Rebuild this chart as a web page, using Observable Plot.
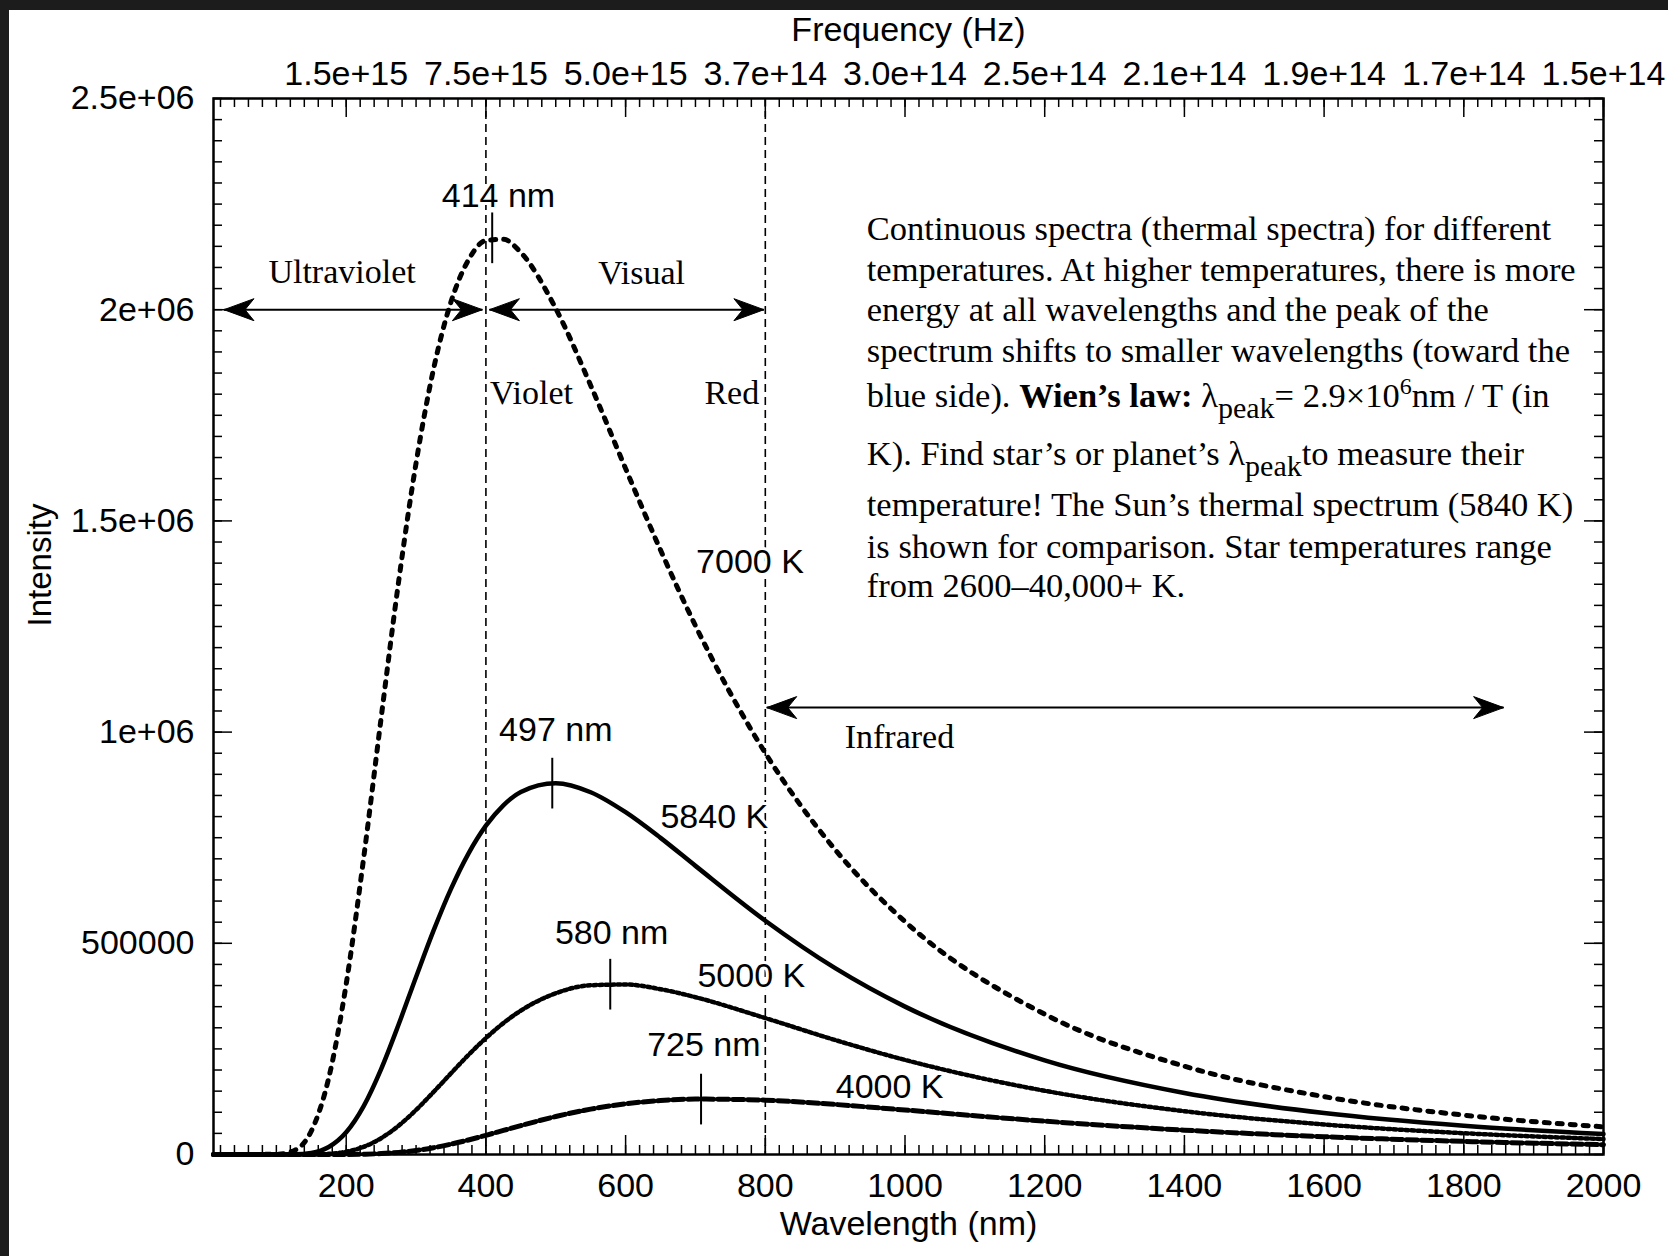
<!DOCTYPE html>
<html><head><meta charset="utf-8">
<script src="https://cdn.jsdelivr.net/npm/d3@7"></script>
<script src="https://cdn.jsdelivr.net/npm/@observablehq/plot@0.6"></script>
<style>
html,body{margin:0;padding:0;background:#fff;}
#wrap{position:relative;width:1668px;height:1256px;overflow:hidden;background:#fff;}
#topbar{position:absolute;left:0;top:0;width:1668px;height:10px;background:#1c1c1c;}
#leftbar{position:absolute;left:0;top:0;width:9px;height:1256px;background:#1c1c1c;}
#chart{position:absolute;left:0;top:0;}
</style></head>
<body><div id="wrap"><div id="chart"></div><div id="topbar"></div><div id="leftbar"></div></div>
<script>
// ---------- data ----------
const wavelength = [10,100,125,150,175,200,225,250,275,300,325,350,375,400,425,450,500,550,600,650,700,800,900,1000,1200,1400,1600,1800,2000];
const intensity7000 = [0,450,9030,55460,181300,403800,702200,1033600,1355900,1637000,1859300,2018600,2117700,2163900,2166600,2135300,2002700,1820700,1623800,1430900,1252000,950500,721600,551400,332100,209000,137000,93200,65400];
const intensity5840 = [0,0,340,3660,17640,52550,114600,202300,307700,420300,529900,628900,712500,778500,826800,858400,879000,857700,810400,749600,683300,553500,441200,350100,222700,145500,98000,68000,48450];
const intensity5000 = [0,0,0,230,1680,6620,18180,38560,68150,105500,147900,192200,235600,275700,311000,340600,381700,400700,402400,391400,372400,323000,271000,223900,150900,102500,71050,50360,36500];
const intensity4000 = [0,0,0,0,0,180,740,2160,4960,9550,16090,24490,34410,45390,56900,68430,89910,107400,120000,127800,131200,128600,118500,105300,78900,57640,42090,31020,23170];
const seriesNames = ["7000 K","5840 K","5000 K","4000 K"];

const peakNm = [409,495,578,708];
const peakIntensity = [2169000,878000,402000,130000];
const peakLabels = ["414 nm","497 nm","580 nm","725 nm"];
const peakLabelNm = [418,500,580,712];
const peakLabelIntensity = [2270000,1004000,523000,258000];

const tempLabelNm = [778,727,780,978];
const tempLabelIntensity = [1402000,799000,423000,159000];

const xTicks = [200,400,600,800,1000,1200,1400,1600,1800,2000];
const xTickLabels = ["200","400","600","800","1000","1200","1400","1600","1800","2000"];
const freqTickLabels = ["1.5e+15","7.5e+15","5.0e+15","3.7e+14","3.0e+14","2.5e+14","2.1e+14","1.9e+14","1.7e+14","1.5e+14"];
const yTicks = [0,500000,1000000,1500000,2000000,2500000];
const yTickLabels = ["0","500000","1e+06","1.5e+06","2e+06","2.5e+06"];

const regionLabels = ["Ultraviolet","Visual","Red","Infrared"];
const regionLabelNm = [194,623,752,992];
const regionLabelIntensity = [2090000,2086000,1802000,987000];
const violetLabel = ["Violet"];
const violetNm = [406];
const violetIntensity = [1802000];

const spectralBoundaries = [400,800];
const arrowStart = [25,405,802];
const arrowEnd = [395,798,1857];
const arrowIntensity = [2000000,2000000,1058000];

const paragraphNm = 946;
const paragraphIntensity = [2164000,2067000,1972000,1875000,1768000,1631000,1510000,1411000,1319000];
const paragraphLines = [
  [{t:"Continuous spectra (thermal spectra) for different"}],
  [{t:"temperatures. At higher temperatures, there is more"}],
  [{t:"energy at all wavelengths and the peak of the"}],
  [{t:"spectrum shifts to smaller wavelengths (toward the"}],
  [{t:"blue side). "},{t:"Wien’s law:",bold:true},{t:" λ"},{t:"peak",sub:true},{t:"= 2.9×10"},{t:"6",sup:true},{t:"nm / T (in"}],
  [{t:"K). Find star’s or planet’s λ"},{t:"peak",sub:true},{t:"to measure their"}],
  [{t:"temperature! The Sun’s thermal spectrum (5840 K)"}],
  [{t:"is shown for comparison. Star temperatures range"}],
  [{t:"from 2600–40,000+ K."}]
];

// ---------- tables built from the arrays ----------
const seriesValues = [intensity7000,intensity5840,intensity5000,intensity4000];
const curves = seriesNames.flatMap((name,s)=>wavelength.map((w,i)=>({name,w,v:seriesValues[s][i]})));
const peaks = peakNm.map((nm,i)=>({nm,v:peakIntensity[i],label:peakLabels[i],lx:peakLabelNm[i],ly:peakLabelIntensity[i]}));
const temps = seriesNames.map((name,i)=>({name,x:tempLabelNm[i],y:tempLabelIntensity[i]}));
const regions = regionLabels.map((t,i)=>({t,x:regionLabelNm[i],y:regionLabelIntensity[i]}));
const violet = violetLabel.map((t,i)=>({t,x:violetNm[i],y:violetIntensity[i]}));
const arrows = arrowStart.map((x1,i)=>({x1,x2:arrowEnd[i],v:arrowIntensity[i]}));
const xMap = new Map(xTicks.map((d,i)=>[d,xTickLabels[i]]));
const fMap = new Map(xTicks.map((d,i)=>[d,freqTickLabels[i]]));
const yMap = new Map(yTicks.map((d,i)=>[d,yTickLabels[i]]));
const xMinor = d3.range(20,2001,20);
const yMinor = d3.range(0,2500001,50000);

// ---------- layout ----------
const W = 1668, H = 1256, mL = 213, mR = 65, mT = 98, mB = 102;
const fW = W - mL - mR, fH = H - mT - mB;
const minorLen = 9, majorLen = 19;
const serif = "'Liberation Serif', 'Times New Roman', serif";

const headRight = {draw(c){c.moveTo(0,0);c.lineTo(-30,-11);c.lineTo(-21,0);c.lineTo(-30,11);c.closePath();}};
const headLeft = {draw(c){c.moveTo(0,0);c.lineTo(30,-11);c.lineTo(21,0);c.lineTo(30,11);c.closePath();}};

const styles = {
  "7000 K": {strokeDasharray:"5,8", strokeWidth:5},
  "5840 K": {strokeWidth:4.5},
  "5000 K": {strokeDasharray:"3,3", strokeWidth:4.5},
  "4000 K": {strokeDasharray:"11,4", strokeWidth:5}
};

const chart = Plot.plot({
  width: W, height: H,
  marginLeft: mL, marginRight: mR, marginTop: mT, marginBottom: mB,
  x: {domain: [10,2000]},
  y: {domain: [0,2500000]},
  style: {fontFamily: "'Liberation Sans', Arial, sans-serif", fontSize: "34px", color: "black", background: "transparent", overflow: "visible"},
  marks: [
    Plot.ruleX(spectralBoundaries, {x: d=>d, strokeDasharray: "8,5", strokeWidth: 1.6}),
    ...seriesNames.map(name => Plot.line(curves.filter(d=>d.name===name), {x:"w", y:"v", curve:"monotone-x", stroke:"black", ...styles[name]})),
    Plot.link(arrows, {x1:"x1", x2:"x2", y1:"v", y2:"v", stroke:"black", strokeWidth:2}),
    Plot.dot(arrows, {x:"x2", y:"v", symbol: headRight, fill:"black", stroke:"black", strokeWidth:1}),
    Plot.dot(arrows, {x:"x1", y:"v", symbol: headLeft, fill:"black", stroke:"black", strokeWidth:1}),
    Plot.ruleX(peaks, {x:"nm", y1: d=>d.v-60000, y2: d=>d.v+60000, strokeWidth:2}),
    Plot.text(peaks, {x:"lx", y:"ly", text:"label", lineAnchor:"middle", stroke:"white", strokeWidth:6, fill:"black"}),
    Plot.text(temps, {x:"x", y:"y", text:"name", lineAnchor:"middle", stroke:"white", strokeWidth:6, fill:"black"}),
    Plot.text(regions, {x:"x", y:"y", text:"t", lineAnchor:"middle", fontFamily: serif, fill:"black"}),
    Plot.text(violet, {x:"x", y:"y", text:"t", lineAnchor:"middle", textAnchor:"start", fontFamily: serif, fill:"black"}),
    // tick marks (inward, on all four sides)
    Plot.tickX(xMinor, {x:d=>d, insetTop: fH-minorLen, strokeWidth:1.5}),
    Plot.tickX(xTicks, {x:d=>d, insetTop: fH-majorLen, strokeWidth:1.5}),
    Plot.tickX(xMinor, {x:d=>d, insetBottom: fH-minorLen, strokeWidth:1.5}),
    Plot.tickX(xTicks, {x:d=>d, insetBottom: fH-majorLen, strokeWidth:1.5}),
    Plot.tickY(yMinor, {y:d=>d, insetRight: fW-minorLen, strokeWidth:1.5}),
    Plot.tickY(yTicks, {y:d=>d, insetRight: fW-majorLen, strokeWidth:1.5}),
    Plot.tickY(yMinor, {y:d=>d, insetLeft: fW-minorLen, strokeWidth:1.5}),
    Plot.tickY(yTicks, {y:d=>d, insetLeft: fW-majorLen, strokeWidth:1.5}),
    Plot.frame({stroke:"black", strokeWidth:2.5}),
    Plot.axisX({anchor:"bottom", ticks: xTicks, tickSize:0, tickPadding:18, tickFormat: d=>xMap.get(d), label:null, fontSize:34}),
    Plot.axisX({anchor:"top", ticks: xTicks, tickSize:0, tickPadding:14, tickFormat: d=>fMap.get(d), label:null, fontSize:34}),
    Plot.axisY({anchor:"left", ticks: yTicks, tickSize:0, tickPadding:19, tickFormat: d=>yMap.get(d), label:null, fontSize:34}),
    Plot.text(["Frequency (Hz)"], {text:d=>d, frameAnchor:"top", dy:-68, lineAnchor:"middle", fontSize:34}),
    Plot.text(["Wavelength (nm)"], {text:d=>d, frameAnchor:"bottom", dy:70, lineAnchor:"middle", fontSize:34}),
    Plot.text(["Intensity"], {text:d=>d, frameAnchor:"left", dx:-173, rotate:-90, lineAnchor:"middle", fontSize:33})
  ]
});

// ---------- paragraph with bold / sub / superscripts ----------
const sx = chart.scale("x"), sy = chart.scale("y");
const g = d3.select(chart).append("g")
  .attr("font-family", serif).attr("font-size", 34.5).attr("fill", "black")
  .attr("text-anchor", "start")
  .style("white-space", "pre");
paragraphLines.forEach((segs, i) => {
  const t = g.append("text").attr("text-anchor", "start")
    .attr("x", sx.apply(paragraphNm)).attr("y", sy.apply(paragraphIntensity[i]));
  let shift = 0;
  segs.forEach(s => {
    const target = s.sub ? 11 : s.sup ? -13 : 0;
    const ts = t.append("tspan").text(s.t).attr("dy", target - shift);
    shift = target;
    if (s.bold) ts.attr("font-weight", "bold");
    if (s.sub) ts.attr("font-size", 30);
    if (s.sup) ts.attr("font-size", 24);
  });
});

document.getElementById("chart").appendChild(chart);
</script>
</body></html>
